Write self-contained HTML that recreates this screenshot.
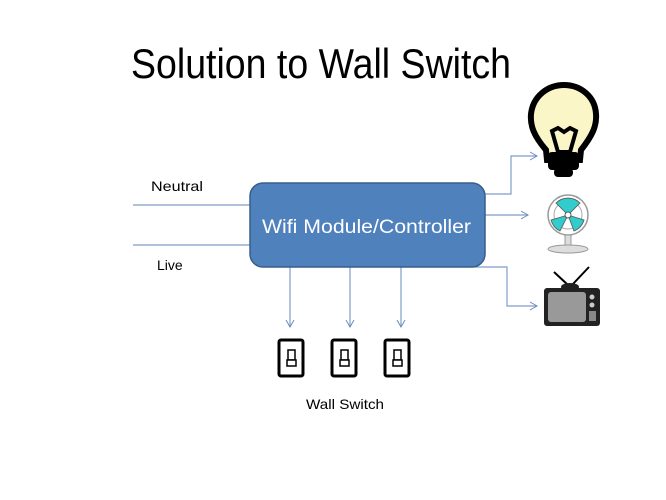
<!DOCTYPE html>
<html><head><meta charset="utf-8"><style>html,body{margin:0;padding:0;background:#fff}svg{display:block}</style></head>
<body>
<svg width="666" height="500" viewBox="0 0 666 500" xmlns="http://www.w3.org/2000/svg" font-family="Liberation Sans, sans-serif">
<defs>
<marker id="a" markerWidth="10" markerHeight="10" refX="8" refY="5" orient="auto" markerUnits="userSpaceOnUse"><path d="M1,1 L8,5 L1,9" fill="none" stroke="#6b8cc0" stroke-width="1"/></marker>
</defs>
<text x="131" y="78" font-size="42" fill="#000" textLength="380" lengthAdjust="spacingAndGlyphs">Solution to Wall Switch</text>
<text x="151" y="191" font-size="14" fill="#000" textLength="52" lengthAdjust="spacingAndGlyphs">Neutral</text>
<text x="157" y="270" font-size="14" fill="#000">Live</text>
<g stroke="#7f9cc8" stroke-width="1.2" fill="none">
<line x1="133" y1="205" x2="250" y2="205"/>
<line x1="133" y1="245" x2="250" y2="245"/>
<line x1="290" y1="267" x2="290" y2="327" marker-end="url(#a)"/>
<line x1="350" y1="267" x2="350" y2="327" marker-end="url(#a)"/>
<line x1="401" y1="267" x2="401" y2="327" marker-end="url(#a)"/>
<polyline points="484,194 511,194 511,156 537,156" marker-end="url(#a)"/>
<line x1="484" y1="215" x2="528" y2="215" marker-end="url(#a)"/>
<polyline points="474,267 507,267 507,306 537,306" marker-end="url(#a)"/>
</g>
<rect x="250" y="183" width="235" height="84" rx="13" fill="#4f81bd" stroke="#385d8a" stroke-width="1.5"/>
<text x="262" y="233" font-size="19" fill="#fff" textLength="209" lengthAdjust="spacingAndGlyphs">Wifi Module/Controller</text>
<g stroke="#000" fill="#fff">
<rect x="279" y="340" width="24" height="36" rx="2" stroke-width="3"/>
<rect x="332" y="340" width="24" height="36" rx="2" stroke-width="3"/>
<rect x="385" y="340" width="24" height="36" rx="2" stroke-width="3"/>
<g stroke-width="1.5">
<rect x="288" y="350" width="7" height="10"/><rect x="287" y="360" width="9" height="6"/>
<rect x="341" y="350" width="7" height="10"/><rect x="340" y="360" width="9" height="6"/>
<rect x="394" y="350" width="7" height="10"/><rect x="393" y="360" width="9" height="6"/>
</g>
</g>
<text x="306" y="409" font-size="14" fill="#000" textLength="78" lengthAdjust="spacingAndGlyphs">Wall Switch</text>
<!-- bulb -->
<path d="M546,150 C534,136 530,126 531,114 C533,96 548,85 564,85 C580,85 595,96 596,114 C597,126 592,136 581,150 L580,160 L547,160 Z" fill="#fbf6c8" stroke="#000" stroke-width="6"/>
<path d="M552,131 L558,128 L564,132 L570,128 L576,131 L570,152 L558,152 Z" fill="none" stroke="#000" stroke-width="4"/>
<rect x="548" y="152" width="31" height="18" rx="4" fill="#000"/>
<rect x="554" y="168" width="19" height="9" rx="4" fill="#000"/>
<!-- fan -->
<circle cx="568" cy="215" r="20" fill="#fff" stroke="#999" stroke-width="1.5"/>
<circle cx="568" cy="215" r="14" fill="none" stroke="#aaa" stroke-width="1"/>
<path d="M568,215 L556,203 A17,17 0 0 1 580,203 Z" fill="#3cc" stroke="#555" stroke-width="0.8"/>
<path d="M568,215 L584,220 A17,17 0 0 1 574,231 Z" fill="#3cc" stroke="#555" stroke-width="0.8"/>
<path d="M568,215 L560,231 A17,17 0 0 1 551,220 Z" fill="#3cc" stroke="#555" stroke-width="0.8"/>
<circle cx="568" cy="215" r="3" fill="#fff" stroke="#555"/>
<rect x="565" y="235" width="6" height="12" fill="#ddd" stroke="#999"/>
<ellipse cx="568" cy="249" rx="20" ry="4" fill="#ddd" stroke="#999"/>
<!-- tv -->
<line x1="554" y1="272" x2="568" y2="285" stroke="#000" stroke-width="2"/>
<line x1="589" y1="267" x2="572" y2="285" stroke="#000" stroke-width="2"/>
<ellipse cx="570" cy="287" rx="9" ry="4" fill="#222"/>
<rect x="544" y="288" width="56" height="38" rx="3" fill="#222"/>
<rect x="548" y="292" width="38" height="30" rx="3" fill="#999"/>
<circle cx="592" cy="297" r="2.5" fill="#ccc"/><circle cx="592" cy="305" r="2.5" fill="#ccc"/>
<rect x="589" y="311" width="7" height="10" fill="#888"/>
</svg>
</body></html>
